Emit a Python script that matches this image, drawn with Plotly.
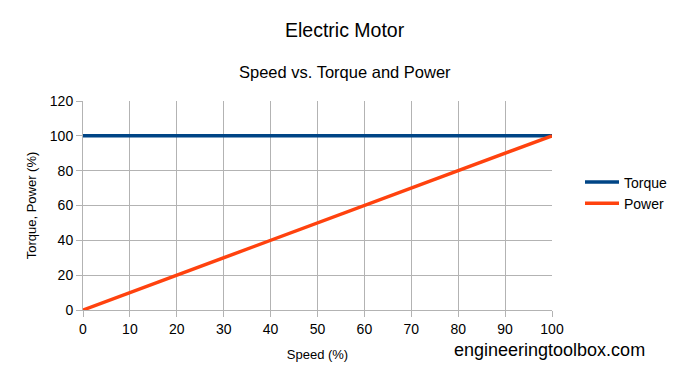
import plotly.graph_objects as go

speed = [0, 10, 20, 30, 40, 50, 60, 70, 80, 90, 100]
torque = [100, 100, 100, 100, 100, 100, 100, 100, 100, 100, 100]
power = [0, 10, 20, 30, 40, 50, 60, 70, 80, 90, 100]
x_ticks = [0, 10, 20, 30, 40, 50, 60, 70, 80, 90, 100]
y_ticks = [0, 20, 40, 60, 80, 100, 120]

FONT = "Liberation Sans, Arial, sans-serif"

L, R, T, B = 83, 135, 101, 76
W, H = 687, 386
plot_w = W - L - R
plot_h = H - T - B


def px_x(px):
    return (px - L) / plot_w


def px_y(py):
    return (H - B - py) / plot_h


fig = go.Figure()
fig.add_trace(go.Scatter(x=speed, y=torque, mode="lines", name="Torque",
                         line=dict(color="#004586", width=3.5)))
fig.add_trace(go.Scatter(x=speed, y=power, mode="lines", name="Power",
                         line=dict(color="#ff420e", width=3.5)))

fig.update_layout(
    width=W, height=H,
    margin=dict(l=L, r=R, t=T, b=B),
    paper_bgcolor="white", plot_bgcolor="white",
    font=dict(family=FONT, color="black", size=14),
    showlegend=True,
    legend=dict(x=px_x(580), y=px_y(193), xanchor="left", yanchor="middle",
                font=dict(size=14), itemwidth=34, tracegroupgap=0,
                bgcolor="rgba(0,0,0,0)"),
    annotations=[
        dict(text="Electric Motor", x=px_x(345), y=px_y(30), xref="paper", yref="paper",
             xanchor="center", yanchor="middle", showarrow=False, font=dict(size=19.5)),
        dict(text="Speed vs. Torque and Power", x=px_x(345), y=px_y(72),
             xref="paper", yref="paper", xanchor="center", yanchor="middle",
             showarrow=False, font=dict(size=16.5)),
        dict(text="engineeringtoolbox.com", x=px_x(549), y=px_y(350),
             xref="paper", yref="paper", xanchor="center", yanchor="middle",
             showarrow=False, font=dict(size=18)),
    ],
)

fig.update_xaxes(range=[0, 100], tickvals=x_ticks, showgrid=True, gridcolor="#b3b3b3",
                 gridwidth=1, ticks="outside", ticklen=6, tickcolor="#b3b3b3",
                 showline=True, linecolor="#b3b3b3", zeroline=False,
                 title=dict(text="Speed (%)", font=dict(size=13), standoff=14),
                 tickfont=dict(size=14))
fig.update_yaxes(range=[0, 120], tickvals=y_ticks, showgrid=True, gridcolor="#b3b3b3",
                 gridwidth=1, ticks="outside", ticklen=6, tickcolor="#b3b3b3",
                 showline=True, linecolor="#b3b3b3", zeroline=False, mirror=False,
                 title=dict(text="Torque, Power (%)", font=dict(size=13), standoff=10),
                 tickfont=dict(size=14))

fig.write_html("out.html", config={"displayModeBar": False},
               post_script="document.body.style.margin='0';")
